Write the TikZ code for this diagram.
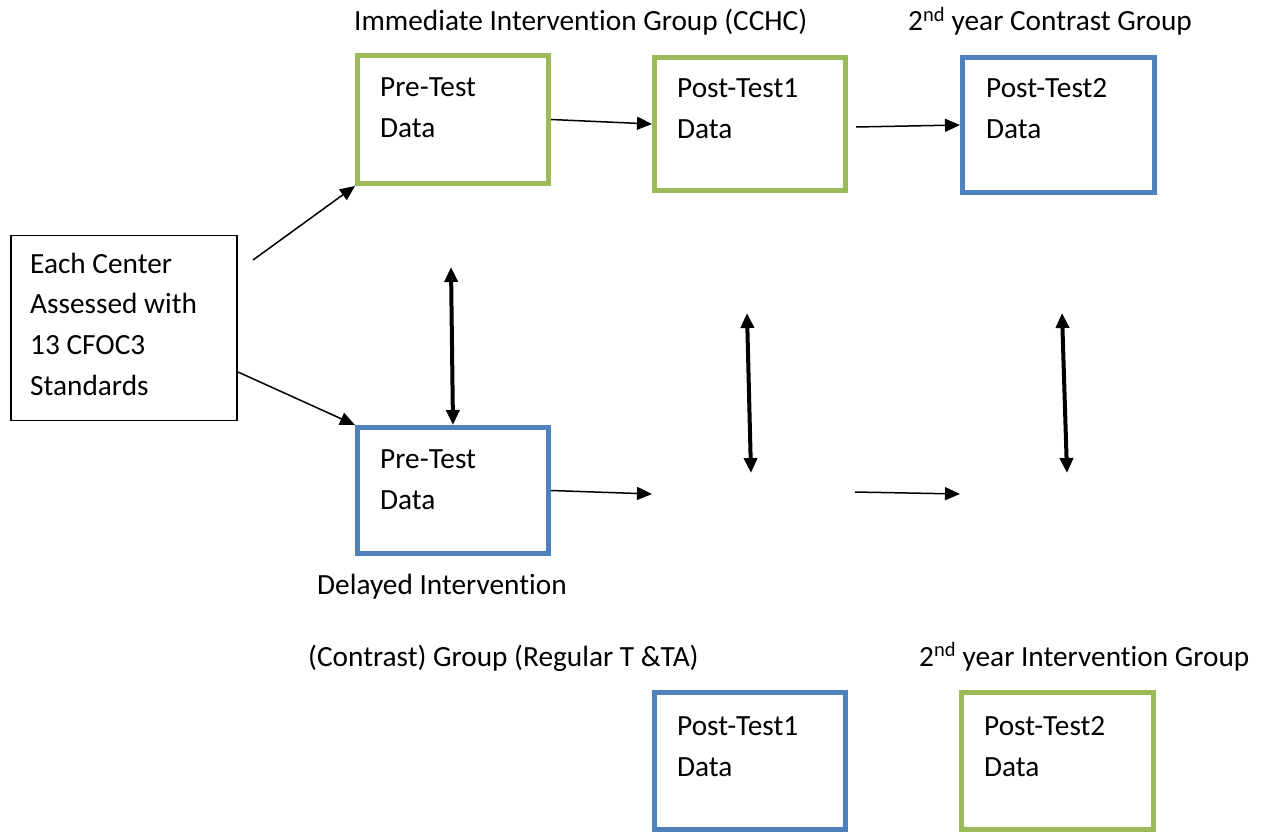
\documentclass[tikz,border=0pt]{standalone}
\usepackage{fontspec}
\setmainfont[RawFeature={-liga;-clig;-rlig;-dlig;-calt}]{Carlito}
\usetikzlibrary{arrows.meta}
\definecolor{boxgreen}{HTML}{9BBB59}
\definecolor{boxblue}{HTML}{4F81BD}
\begin{document}
\begin{tikzpicture}[x=1pt,y=-1pt,
  gbox/.style={draw=boxgreen,line width=5pt,minimum width=191pt,inner sep=0pt},
  bbox/.style={draw=boxblue,line width=5pt,minimum width=191pt,inner sep=0pt},
  kbox/.style={draw=black,line width=1.5pt,inner sep=0pt},
  txt/.style={anchor=base west,inner sep=0pt,align=left,font=\fontsize{29.3}{41}\selectfont},
  thin arrow/.style={line width=1.5pt,-{Triangle[length=15pt,width=13pt]}},
  thick arrow/.style={line width=4pt,{Triangle[length=15pt,width=13pt]}-{Triangle[length=15pt,width=13pt]}}]
\useasboundingbox (0,0) rectangle (1262,834);
\fill[white] (0,0) rectangle (1262,834);
% boxes
\node[kbox,minimum width=226pt,minimum height=185pt] (ec) at (123.75,328.25) {};
\node[gbox,minimum height=128pt] (pre1) at (453,119.5) {};
\node[gbox,minimum height=133pt] (post1) at (750,124) {};
\node[bbox,minimum width=192pt,minimum height=135pt] (post2) at (1058.5,125) {};
\node[bbox,minimum height=126pt] (pre2) at (453,490.5) {};
\node[bbox,minimum height=137pt] (post1b) at (750,761) {};
\node[gbox,minimum width=192pt,minimum height=137pt] (post2b) at (1057.5,761) {};
% box texts (anchored at the baseline of the last line)
\node[txt] (ect) at (30,396) {Each Center\\Assessed with\\13 CFOC3\\Standards};
\node[txt] (pre1t) at (380,138) {Pre-Test\\Data};
\node[txt] (post1t) at (677,139) {Post-Test1\\Data};
\node[txt] (post2t) at (986,139) {Post-Test2\\Data};
\node[txt] (pre2t) at (380,509) {Pre-Test\\Data};
\node[txt] (post1bt) at (677,776) {Post-Test1\\Data};
\node[txt] (post2bt) at (984,776) {Post-Test2\\Data};
% group labels
\node[txt] (l1) at (354,31) {Immediate Intervention Group (CCHC)};
\node[txt] (l2) at (908,31) {2\textsuperscript{nd} year Contrast Group};
\node[txt] (l3) at (317,594) {Delayed Intervention};
\node[txt] (l4) at (308,666) {(Contrast) Group (Regular T \&TA)};
\node[txt] (l5) at (919,666) {2\textsuperscript{nd} year Intervention Group};
% free ends
\coordinate (e1) at (253,260);
\coordinate (e2) at (238,372);
\coordinate (e3) at (856,127);
\coordinate (e4) at (652,494);
\coordinate (e5) at (855,492);
\coordinate (e6) at (960,494);
\coordinate (d1a) at (451,267);
\coordinate (d2a) at (747,313);
\coordinate (d2b) at (751,473);
\coordinate (d3a) at (1062,313);
\coordinate (d3b) at (1067,473);
% connectors
\draw[thin arrow] (e1) -- (pre1.south west);
\draw[thin arrow] (e2) -- (pre2.north west);
\draw[thin arrow] (pre1.east) -- (post1.west);
\draw[thin arrow] (e3) -- (post2.west);
\draw[thin arrow] (pre2.east) -- (e4);
\draw[thin arrow] (e5) -- (e6);
\draw[thick arrow] (d1a) -- (pre2.north);
\draw[thick arrow] (d2a) -- (d2b);
\draw[thick arrow] (d3a) -- (d3b);
\end{tikzpicture}
\end{document}
